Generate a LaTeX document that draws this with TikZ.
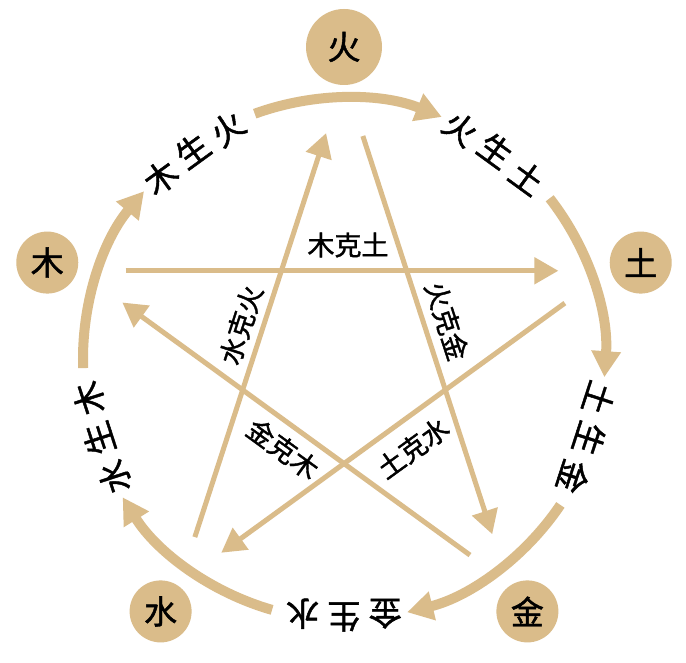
\documentclass[tikz,border=0pt]{standalone}
\usepackage{fontspec}
\newfontfamily\cjk[FakeBold=1.4]{Noto Sans CJK SC}
\usetikzlibrary{arrows.meta,calc}
\definecolor{wxtan}{RGB}{218,188,138}
\begin{document}
\begin{tikzpicture}[x=1pt,y=1pt,
  ringarc/.style={draw=wxtan,line width=10pt,-{Triangle[width=28pt,length=26pt]}},
  starline/.style={draw=wxtan,line width=5pt,-{Triangle[width=26pt,length=24pt]}},
  elem/.style={circle,fill=wxtan,minimum size=62pt,inner sep=0pt,font=\cjk\fontsize{33}{33}\selectfont},
  ringlbl/.style={inner sep=0pt,font=\cjk\fontsize{33}{33}\selectfont},
  starlbl/.style={inner sep=0pt,font=\cjk\fontsize{27}{27}\selectfont}]
\useasboundingbox (0,0) rectangle (686,663);
\fill[white] (0,0) rectangle (686,663);
\coordinate (C) at (344,304);
\coordinate (S) at (344,306);
% element circles
\node[elem,minimum size=76pt] (huo) at ($(C)+(90:312)$) {火};
\node[elem] (tu) at ($(C)+(18:312)$) {土};
\node[elem] (jin) at ($(C)+(-54:312)$) {金};
\node[elem] (shui) at ($(C)+(-126:312)$) {水};
\node[elem] (mu) at ($(C)+(162:312)$) {木};
% ring arcs and labels
\foreach \t/\A/\B/\D [count=\i] in {126/木/生/火, 54/火/生/土, -18/土/生/金, -90/金/生/水, 198/水/生/木}{
  \pgfmathsetmacro{\aa}{\t+9.2}
  \pgfmathsetmacro{\ab}{\t-9.2}
  \pgfmathsetmacro{\rot}{\t-90}
  \pgfmathsetmacro{\sa}{\t-16}
  \pgfmathsetmacro{\ea}{\t-58}
  \node[ringlbl,rotate=\rot] (r\i-a) at ($(C)+(\aa:258)$) {\A};
  \node[ringlbl,rotate=\rot] (r\i-b) at ($(C)+(\t:258)$) {\B};
  \node[ringlbl,rotate=\rot] (r\i-c) at ($(C)+(\ab:258)$) {\D};
  \draw[ringarc] ($(C)+(\sa:261)$) arc[start angle=\sa, end angle=\ea, radius=261];
}
% star vertices
\coordinate (VT) at ($(S)+(90:279)$);
\coordinate (VR) at ($(S)+(18:279)$);
\coordinate (VBR) at ($(S)+(-54:279)$);
\coordinate (VBL) at ($(S)+(-126:279)$);
\coordinate (VL) at ($(S)+(162:279)$);
% star lines
\draw[starline] ($(VL)!47pt!(VR)$) -- ($(VR)!51pt!(VL)$);
\draw[starline] ($(VBL)!48pt!(VT)$) -- ($(VT)!58pt!(VBL)$);
\draw[starline] ($(VT)!61pt!(VBR)$) -- ($(VBR)!51pt!(VT)$);
\draw[starline] ($(VBR)!47pt!(VL)$) -- ($(VL)!54pt!(VBR)$);
\draw[starline] ($(VR)!55pt!(VBL)$) -- ($(VBL)!51pt!(VR)$);
% star labels
\node[starlbl] (kmt) at (348,418) {木克土};
\node[starlbl,rotate=72] (ksh) at (241,338) {水克火};
\node[starlbl,rotate=-72] (khj) at (447,342) {火克金};
\node[starlbl,rotate=-36] (kjm) at (283,214) {金克木};
\node[starlbl,rotate=36] (kts) at (413,215) {土克水};
\end{tikzpicture}
\end{document}
